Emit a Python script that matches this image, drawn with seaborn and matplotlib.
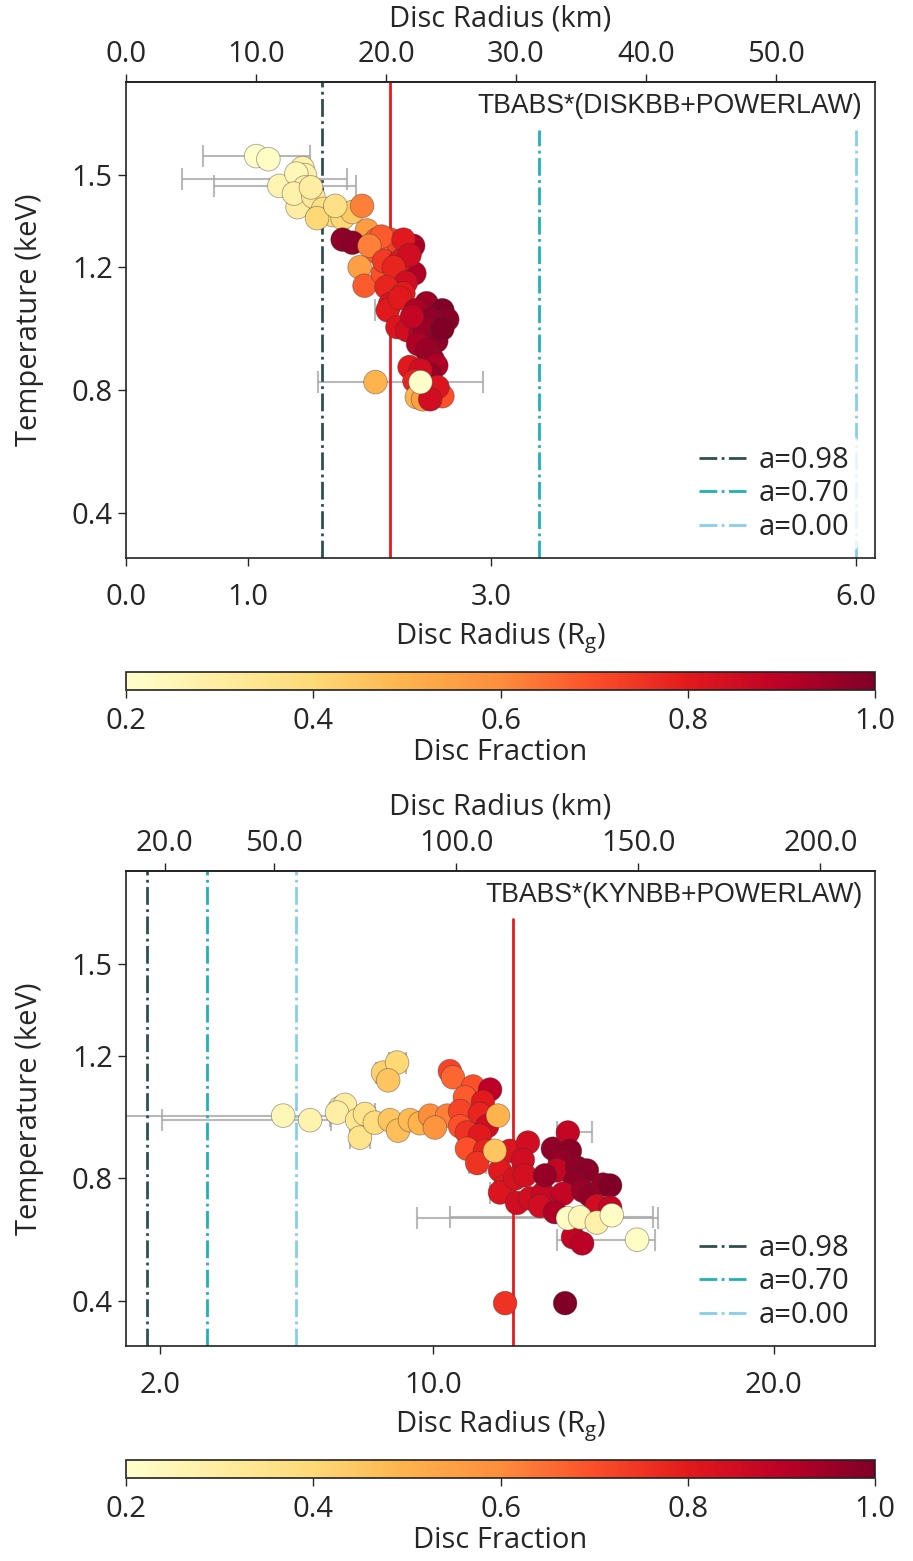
import numpy as np
import matplotlib
matplotlib.use("Agg")
import matplotlib.pyplot as plt
import seaborn as sns
import pandas as pd
from matplotlib.colors import Normalize
from matplotlib.cm import ScalarMappable
from matplotlib.ticker import FormatStrFormatter

# ---------------------------------------------------------------- data
KM_PER_RG = 9.36  # gravitational radius in km for the adopted black-hole mass

# tbabs*(diskbb+powerlaw): inner radius (Rg), temperature (keV), disc fraction
diskbb_rg = [1.07, 1.17, 1.43, 1.26, 1.45, 1.47, 1.40, 1.47, 1.41, 1.38,
             1.54, 1.62, 1.70, 1.78, 1.86, 1.57, 1.72, 1.52, 1.94, 1.98,
             1.78, 1.86, 2.06, 2.17, 2.06, 2.10, 2.00, 1.92, 1.96, 2.11,
             2.12, 2.23, 2.36, 2.37, 2.28, 2.25, 2.33, 2.20, 2.30, 2.14,
             2.28, 2.17, 2.15, 2.23, 2.31, 2.25, 2.47, 2.60, 2.64, 2.58,
             2.42, 2.38, 2.50, 2.45, 2.55, 2.35, 2.40, 2.60, 2.47, 2.52,
             2.55, 2.50, 2.33, 2.42, 2.37, 2.05, 2.39, 2.44, 2.60, 2.56,
             2.50, 2.42]
diskbb_kT = [1.562, 1.552, 1.487, 1.465, 1.523, 1.500, 1.505, 1.460, 1.396, 1.440,
             1.430, 1.390, 1.370, 1.360, 1.380, 1.360, 1.400, 1.460, 1.400, 1.320,
             1.290, 1.280, 1.290, 1.290, 1.250, 1.300, 1.270, 1.200, 1.140, 1.180,
             1.220, 1.160, 1.270, 1.180, 1.290, 1.220, 1.240, 1.200, 1.150, 1.135,
             1.115, 1.080, 1.060, 1.005, 0.995, 1.100, 1.083, 1.060, 1.030, 1.000,
             0.985, 1.060, 1.030, 1.000, 0.960, 1.040, 0.950, 1.000, 0.930, 0.900,
             0.880, 0.850, 0.875, 0.865, 0.830, 0.826, 0.777, 0.770, 0.780, 0.810,
             0.770, 0.826]
diskbb_frac = [0.20, 0.22, 0.27, 0.26, 0.27, 0.27, 0.25, 0.28, 0.30, 0.28,
               0.32, 0.36, 0.38, 0.40, 0.44, 0.40, 0.36, 0.30, 0.62, 0.56,
               0.97, 0.98, 0.66, 0.72, 0.68, 0.68, 0.62, 0.55, 0.68, 0.70,
               0.74, 0.75, 0.93, 0.92, 0.80, 0.82, 0.85, 0.78, 0.85, 0.78,
               0.80, 0.82, 0.80, 0.82, 0.85, 0.80, 0.95, 1.00, 0.98, 0.97,
               0.90, 0.92, 0.97, 0.95, 0.97, 0.88, 0.92, 1.00, 0.95, 0.95,
               0.92, 0.96, 0.80, 0.85, 0.78, 0.50, 0.50, 0.55, 0.70, 0.82,
               0.85, 0.20]
# points carrying radius uncertainties (lower / upper, Rg)
diskbb_err_rg = [1.07, 1.43, 1.26, 2.15, 2.28, 2.37, 2.42]
diskbb_err_kT = [1.562, 1.487, 1.465, 1.060, 1.290, 0.880, 0.826]
diskbb_err_lo = [0.44, 0.97, 0.54, 0.10, 0.05, 0.05, 0.84]
diskbb_err_hi = [0.44, 0.39, 0.63, 0.04, 0.05, 0.05, 0.51]

# tbabs*(kynbb+powerlaw)
kynbb_rg = [5.61, 6.40, 7.28, 7.42, 7.19, 7.78, 8.01, 7.86, 8.30, 8.74,
            8.98, 9.33, 9.62, 9.92, 10.42, 10.06, 8.54, 8.95, 8.69, 10.50,
            10.59, 11.18, 11.68, 10.94, 11.47, 10.80, 11.38, 10.80, 11.59, 11.00,
            11.38, 11.00, 11.53, 12.26, 11.30, 11.97, 12.12, 11.97, 12.47, 12.85,
            13.23, 13.14, 12.79, 12.64, 12.41, 12.70, 13.52, 13.96, 14.02, 13.73,
            13.64, 14.23, 14.52, 13.29, 14.17, 13.82, 14.40, 14.61, 14.99, 15.20,
            14.81, 15.20, 13.58, 14.11, 14.38, 11.91, 11.82, 13.96, 14.32, 14.81,
            15.25, 15.99, 12.12, 13.88]
kynbb_kT = [1.005, 0.990, 1.030, 1.040, 1.015, 0.990, 1.010, 0.933, 0.982, 0.990,
            0.956, 0.990, 0.980, 1.005, 1.005, 0.966, 1.145, 1.178, 1.120, 1.150,
            1.130, 1.100, 1.090, 1.065, 1.050, 1.020, 1.010, 0.970, 0.970, 0.950,
            0.940, 0.897, 0.890, 0.890, 0.850, 0.826, 0.775, 0.754, 0.720, 0.735,
            0.750, 0.710, 0.917, 0.860, 0.800, 0.810, 0.897, 0.950, 0.890, 0.860,
            0.826, 0.835, 0.826, 0.810, 0.790, 0.750, 0.760, 0.745, 0.780, 0.777,
            0.710, 0.705, 0.690, 0.608, 0.588, 1.005, 0.890, 0.670, 0.673, 0.656,
            0.680, 0.600, 0.393, 0.393]
kynbb_frac = [0.25, 0.27, 0.30, 0.30, 0.29, 0.33, 0.35, 0.35, 0.38, 0.45,
              0.47, 0.48, 0.50, 0.60, 0.62, 0.58, 0.42, 0.40, 0.45, 0.72,
              0.66, 0.70, 0.90, 0.68, 0.80, 0.72, 0.78, 0.70, 0.85, 0.75,
              0.80, 0.70, 0.78, 0.82, 0.75, 0.80, 0.80, 0.82, 0.85, 0.85,
              0.87, 0.85, 0.85, 0.85, 0.83, 0.84, 0.97, 0.88, 0.98, 0.96,
              0.88, 0.97, 0.98, 0.96, 0.97, 0.88, 0.95, 0.97, 0.96, 1.00,
              0.85, 0.88, 0.92, 0.88, 0.90, 0.50, 0.45, 0.22, 0.25, 0.28,
              0.22, 0.22, 0.75, 1.00]
kynbb_err_rg = [5.61, 6.40, 8.95, 8.54, 11.30, 11.97, 13.96, 13.96, 14.32, 15.99, 7.86, 8.01]
kynbb_err_kT = [1.005, 0.990, 1.178, 1.145, 0.850, 0.754, 0.950, 0.670, 0.673, 0.600, 0.933, 1.010]
kynbb_err_lo = [5.40, 4.34, 0.25, 0.20, 0.25, 0.30, 0.32, 4.43, 3.81, 2.35, 0.30, 0.30]
kynbb_err_hi = [1.38, 0.60, 0.25, 0.20, 0.25, 0.30, 0.70, 2.64, 2.14, 0.53, 0.30, 0.30]

# innermost stable circular orbits (Rg) for three spins
isco_labels = ["a=0.98", "a=0.70", "a=0.00"]
isco_rg = [1.61, 3.39, 6.00]
isco_colors = ["#2f4f4f", "#20b2b2", "#87ceeb"]

frac_ticks = [0.2, 0.4, 0.6, 0.8, 1.0]
temp_ticks = [0.4, 0.8, 1.2, 1.5]

panels = [
    dict(model="TBABS*(DISKBB+POWERLAW)", rg=diskbb_rg, kT=diskbb_kT, frac=diskbb_frac,
         err_rg=diskbb_err_rg, err_kT=diskbb_err_kT, err_lo=diskbb_err_lo, err_hi=diskbb_err_hi,
         rin=2.17, xlim=(0.0, 6.155), rg_ticks=[0.0, 1.0, 3.0, 6.0],
         km_ticks=[0.0, 10.0, 20.0, 30.0, 40.0, 50.0], short_lines=[False, True, True], rin_short=False),
    dict(model="TBABS*(KYNBB+POWERLAW)", rg=kynbb_rg, kT=kynbb_kT, frac=kynbb_frac,
         err_rg=kynbb_err_rg, err_kT=kynbb_err_kT, err_lo=kynbb_err_lo, err_hi=kynbb_err_hi,
         rin=12.35, xlim=(1.0, 22.97), rg_ticks=[2.0, 10.0, 20.0],
         km_ticks=[20.0, 50.0, 100.0, 150.0, 200.0], short_lines=[False, False, False], rin_short=True),
]

# ---------------------------------------------------------------- style
sns.set_theme(style="ticks")
plt.rcParams["font.family"] = ["Open Sans", "DejaVu Sans"]
plt.rcParams["mathtext.fontset"] = "custom"
plt.rcParams["mathtext.rm"] = "Open Sans"
plt.rcParams["axes.edgecolor"] = "#222222"
plt.rcParams["axes.linewidth"] = 1.2

FS = 21
cmap = plt.get_cmap("YlOrRd")
norm = Normalize(vmin=0.2, vmax=1.0)

fig = plt.figure(figsize=(9.13, 15.61), dpi=100)

ax_boxes = [(0.138, 0.6425, 0.8204, 0.3049), (0.138, 0.1377, 0.8204, 0.3043)]
cb_boxes = [(0.138, 0.5580, 0.8204, 0.0115), (0.138, 0.0532, 0.8204, 0.0115)]

for p, axbox, cbbox in zip(panels, ax_boxes, cb_boxes):
    ax = fig.add_axes(axbox)
    df = pd.DataFrame({"rg": p["rg"], "kT": p["kT"], "frac": p["frac"]})

    ax.errorbar(p["err_rg"], p["err_kT"], xerr=[p["err_lo"], p["err_hi"]], fmt="none",
                ecolor="#a8a8a8", elinewidth=1.5, capsize=8, capthick=1.5, alpha=0.8, zorder=1)

    sns.scatterplot(data=df, x="rg", y="kT", hue="frac", palette="YlOrRd", hue_norm=(0.2, 1.0),
                    s=290, edgecolor=(0.25, 0.2, 0.2, 0.45), linewidth=0.6, legend=False,
                    ax=ax, zorder=3)

    for lab, xr, col, short in zip(isco_labels, isco_rg, isco_colors, p["short_lines"]):
        ax.axvline(xr, ymax=0.90 if short else 1.0, color=col, ls="-.", lw=2, label=lab, zorder=2)
    ax.axvline(p["rin"], ymax=0.90 if p["rin_short"] else 1.0, color="#e8191c", lw=2, zorder=2)

    ax.set_xlim(*p["xlim"])
    ax.set_ylim(0.253, 1.803)
    ax.set_xticks(p["rg_ticks"])
    ax.set_yticks(temp_ticks)
    ax.xaxis.set_major_formatter(FormatStrFormatter("%.1f"))
    ax.yaxis.set_major_formatter(FormatStrFormatter("%.1f"))
    ax.tick_params(axis="both", labelsize=FS, length=6, width=1.0, direction="out")
    ax.tick_params(axis="x", pad=12)
    ax.set_xlabel(r"Disc Radius (R$_\mathregular{g}$)", fontsize=FS, labelpad=6)
    ax.set_ylabel("Temperature (keV)", fontsize=FS, labelpad=20)
    for sp in ax.spines.values():
        sp.set_visible(True)

    sec = ax.secondary_xaxis("top", functions=(lambda r: r * KM_PER_RG, lambda k: k / KM_PER_RG))
    sec.set_xticks(p["km_ticks"])
    sec.xaxis.set_major_formatter(FormatStrFormatter("%.1f"))
    sec.tick_params(labelsize=FS, length=6, width=1.0)
    sec.set_xlabel("Disc Radius (km)", fontsize=FS, labelpad=10)

    ax.text(0.983, 0.95, p["model"], transform=ax.transAxes, ha="right", va="center",
            fontsize=19.2, family=["Liberation Sans", "DejaVu Sans"], zorder=5)

    leg = ax.legend(loc="lower right", bbox_to_anchor=(0.988, 0.0), fontsize=FS,
                    frameon=True, framealpha=0.8, handlelength=1.6, handletextpad=0.45,
                    labelspacing=0.15, borderaxespad=0.26, borderpad=0.3)
    leg.get_frame().set_edgecolor("none")
    leg.set_zorder(6)

    cax = fig.add_axes(cbbox)
    cb = fig.colorbar(ScalarMappable(norm=norm, cmap=cmap), cax=cax, orientation="horizontal")
    cb.set_ticks(frac_ticks)
    cb.ax.xaxis.set_major_formatter(FormatStrFormatter("%.1f"))
    cb.ax.tick_params(labelsize=FS, length=6, width=1.0, pad=6)
    cb.set_label("Disc Fraction", fontsize=FS, labelpad=2)
    cb.outline.set_linewidth(1.2)

fig.savefig("out.png", dpi=100)
